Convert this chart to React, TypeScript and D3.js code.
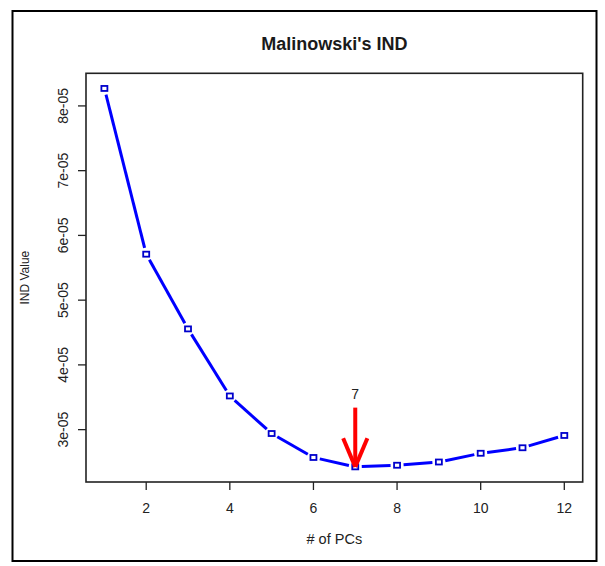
import React from "react";
import * as d3 from "d3";

const pcs = [1, 2, 3, 4, 5, 6, 7, 8, 9, 10, 11, 12];
const indValues = [8.27e-5, 5.71e-5, 4.556e-5, 3.52e-5, 2.94e-5, 2.57e-5, 2.425e-5, 2.45e-5, 2.5e-5, 2.635e-5, 2.72e-5, 2.91e-5];
const xTicks = [2, 4, 6, 8, 10, 12];
const yTicks = [3e-5, 4e-5, 5e-5, 6e-5, 7e-5, 8e-5];
const yTickLabels = ["3e-05", "4e-05", "5e-05", "6e-05", "7e-05", "8e-05"];
const arrowPC = 7;
const arrowTopValue = 3.34e-5;
const arrowLabelValue = 3.55e-5;
const arrowLabel = "7";

const W = 605;
const H = 566;
const plot = { left: 86, right: 582.7, top: 73.3, bottom: 482 };
const font = "'Liberation Sans', Arial, sans-serif";

export default function App() {
  const xExt = d3.extent(pcs) as [number, number];
  const xPad = (xExt[1] - xExt[0]) * 0.04;
  const x = d3.scaleLinear().domain([xExt[0] - xPad, xExt[1] + xPad]).range([plot.left, plot.right]);
  const yExt = d3.extent(indValues) as [number, number];
  const yPad = (yExt[1] - yExt[0]) * 0.04;
  const y = d3.scaleLinear().domain([yExt[0] - yPad, yExt[1] + yPad]).range([plot.bottom, plot.top]);

  const pts = pcs.map((p, i) => [x(p), y(indValues[i])] as [number, number]);
  const gap = 6.5;
  const segs = pts.slice(1).map((b, i) => {
    const a = pts[i];
    const dx = b[0] - a[0];
    const dy = b[1] - a[1];
    const len = Math.hypot(dx, dy);
    const ux = dx / len;
    const uy = dy / len;
    return [a[0] + ux * gap, a[1] + uy * gap, b[0] - ux * gap, b[1] - uy * gap];
  });

  const ax = x(arrowPC);
  const aTop = y(arrowTopValue);
  const aTip = y(indValues[pcs.indexOf(arrowPC)]);
  const headLen = 31;
  const headAng = (23 * Math.PI) / 180;

  return (
    <svg width={W} height={H} style={{ position: "absolute", left: 0, top: 0, background: "#fff" }}>
      <rect x={12.5} y={11} width={584} height={550} fill="none" stroke="#000" strokeWidth={2} />
      <text x={(plot.left + plot.right) / 2} y={50} textAnchor="middle" fontFamily={font} fontWeight="bold" fontSize={18} fill="#1a1a1a">
        Malinowski's IND
      </text>
      <rect x={plot.left} y={plot.top} width={plot.right - plot.left} height={plot.bottom - plot.top} fill="none" stroke="#222" strokeWidth={1.6} />
      {xTicks.map((t) => (
        <g key={"x" + t}>
          <line x1={x(t)} x2={x(t)} y1={plot.bottom} y2={plot.bottom + 8} stroke="#222" strokeWidth={1.3} />
          <text x={x(t)} y={513} textAnchor="middle" fontFamily={font} fontSize={14} fill="#222">
            {t}
          </text>
        </g>
      ))}
      {yTicks.map((t, i) => (
        <g key={"y" + t}>
          <line x1={plot.left - 8} x2={plot.left} y1={y(t)} y2={y(t)} stroke="#222" strokeWidth={1.3} />
          <text transform={`translate(68,${y(t)}) rotate(-90)`} textAnchor="middle" fontFamily={font} fontSize={14} fill="#222">
            {yTickLabels[i]}
          </text>
        </g>
      ))}
      <text x={(plot.left + plot.right) / 2} y={544} textAnchor="middle" fontFamily={font} fontSize={14.5} fill="#222">
        # of PCs
      </text>
      <text transform={`translate(29,${(plot.top + plot.bottom) / 2}) rotate(-90)`} textAnchor="middle" fontFamily={font} fontSize={12} fill="#222">
        IND Value
      </text>
      {segs.map((s, i) => (
        <line key={"s" + i} x1={s[0]} y1={s[1]} x2={s[2]} y2={s[3]} stroke="#0000ff" strokeWidth={3} />
      ))}
      {pts.map((p, i) => (
        <rect key={"p" + i} x={p[0] - 3} y={p[1] - 2.5} width={6} height={5} fill="none" stroke="#0000cc" strokeWidth={1.8} />
      ))}
      <g stroke="#ff0000" strokeWidth={4} fill="none" strokeLinecap="butt">
        <line x1={ax} y1={aTop} x2={ax} y2={aTip} />
        <line x1={ax - headLen * Math.sin(headAng)} y1={aTip - headLen * Math.cos(headAng)} x2={ax} y2={aTip} />
        <line x1={ax + headLen * Math.sin(headAng)} y1={aTip - headLen * Math.cos(headAng)} x2={ax} y2={aTip} />
      </g>
      <text x={ax} y={y(arrowLabelValue) + 5} textAnchor="middle" fontFamily={font} fontSize={14} fill="#222">
        {arrowLabel}
      </text>
    </svg>
  );
}
